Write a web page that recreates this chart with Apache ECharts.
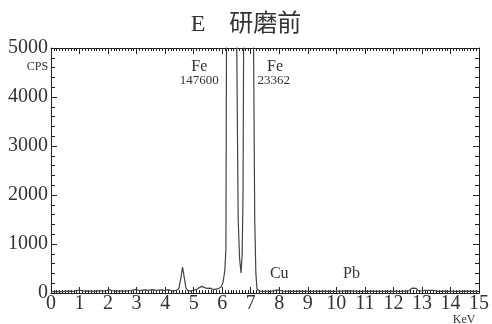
<!DOCTYPE html>
<html>
<head>
<meta charset="utf-8">
<script src="https://cdn.jsdelivr.net/npm/echarts@6/dist/echarts.min.js"></script>
<style>html,body{margin:0;padding:0;background:#fff}#c{width:492px;height:324px}</style>
</head>
<body>
<div id="c"></div>
<script>
// Energy (keV) and counts (CPS)
var energy = [0.00,0.20,0.40,0.60,0.80,1.00,1.10,1.30,1.50,1.70,1.90,2.05,2.20,2.40,2.60,2.80,2.97,3.10,3.30,3.40,3.55,3.70,3.85,4.00,4.10,4.25,4.40,
  4.48,4.55,4.61,4.67,4.73,4.80,4.90,5.00,5.10,5.20,5.28,5.38,5.48,5.58,5.68,5.78,5.88,5.96,6.03,6.09,6.13,6.15,6.20,6.33,6.46,6.51,6.56,6.61,6.66,
  6.70,6.73,6.75,6.82,6.93,7.03,7.10,7.14,7.18,7.22,7.30,7.50,7.75,7.95,8.10,8.40,8.80,9.20,9.60,10.00,10.40,10.80,11.20,11.60,12.00,12.30,
  12.55,12.65,12.72,12.80,12.88,13.00,13.10,13.40,13.50,13.80,14.20,14.60,15.00];
var counts = [30,35,30,40,35,60,40,45,35,50,40,65,40,45,40,50,75,50,65,55,70,55,65,50,70,45,55,
  90,300,530,320,100,50,40,60,70,110,135,110,95,100,70,80,90,120,220,450,900,5000,40000,147600,40000,5000,1500,700,410,
  800,2000,5000,18000,23362,18000,5000,1500,400,80,40,35,40,65,40,35,40,35,40,35,45,35,40,35,40,35,
  45,100,135,95,45,40,55,55,35,40,35,40,35];
var xTicks = [0,1,2,3,4,5,6,7,8,9,10,11,12,13,14,15];
var yTicks = [0,1000,2000,3000,4000,5000];
var titleText = 'E    研磨前';
var annotations = [
  {text:'Fe', x:5.2, y:4612, size:16},
  {text:'147600', x:5.2, y:4327, size:13},
  {text:'Fe', x:7.85, y:4612, size:16},
  {text:'23362', x:7.81, y:4327, size:13},
  {text:'Cu', x:8.0, y:388, size:16},
  {text:'Pb', x:10.53, y:388, size:16},
  {text:'CPS', x:-0.1, y:4612, size:12, align:'right'},
  {text:'KeV', x:14.48, y:-540, size:12}
];

var serif = 'Liberation Serif, Noto Sans CJK JP';
var data = energy.map(function(e,i){return [e, counts[i]];});
var chart = echarts.init(document.getElementById('c'), null, {renderer:'canvas'});
var axisCol = '#222';
function xAx(pos, showLabel){
  return {type:'value', position:pos, min:xTicks[0], max:xTicks[xTicks.length-1], interval:1,
    axisLine:{show:true, onZero:false, lineStyle:{color:axisCol, width:1}},
    axisTick:{show:true, inside:true, length:6, lineStyle:{color:axisCol}},
    minorTick:{show:true, splitNumber:10, length:3, lineStyle:{color:axisCol}},
    splitLine:{show:false},
    axisLabel:{show:showLabel, color:'#333', fontFamily:serif, fontSize:20, margin:1,
      formatter:function(v){return String(v);}}};
}
function yAx(pos, showLabel){
  return {type:'value', position:pos, min:yTicks[0], max:yTicks[yTicks.length-1], interval:1000,
    axisLine:{show:true, onZero:false, lineStyle:{color:axisCol, width:1}},
    axisTick:{show:true, inside:true, length:6, lineStyle:{color:axisCol}},
    minorTick:{show:true, splitNumber:5, length:4, lineStyle:{color:axisCol}},
    splitLine:{show:false},
    axisLabel:{show:showLabel, color:'#333', fontFamily:serif, fontSize:20, margin:3,
      formatter:function(v){return String(v);}}};
}
chart.setOption({
  animation:false,
  backgroundColor:'#fff',
  title:{text:titleText, left:'center', top:8, textStyle:{fontFamily:serif, fontSize:24, fontWeight:'normal', color:'#333'}},
  grid:{left:51, right:8, top:48, bottom:31},
  xAxis:[xAx('bottom', true), xAx('top', false)],
  yAxis:[yAx('left', true), yAx('right', false)],
  series:[{type:'line', data:data, symbol:'none', clip:true, xAxisIndex:0, yAxisIndex:0,
    lineStyle:{color:'#444', width:1.2}}]
});
var g = annotations.map(function(a){
  var p = chart.convertToPixel({gridIndex:0}, [a.x, a.y]);
  return {type:'text', x:p[0], y:p[1], z:10,
    style:{text:a.text, fill:'#333', font:a.size+'px '+serif, align:a.align||'center', verticalAlign:'middle'}};
});
chart.setOption({graphic:g});
</script>
</body>
</html>
